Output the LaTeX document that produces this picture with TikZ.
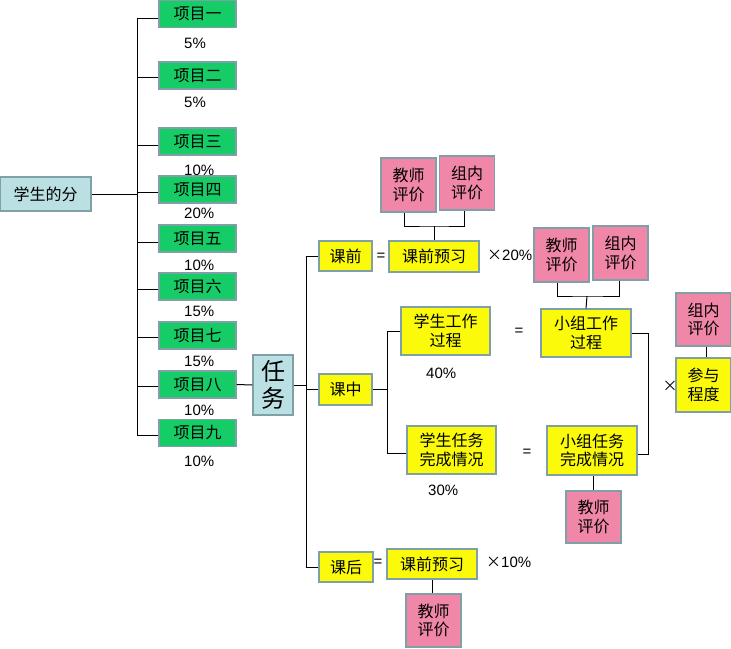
\documentclass[tikz,border=0pt]{standalone}
\usepackage{fontspec}
\setmainfont{Liberation Sans}
\newfontfamily\cjk{Noto Sans CJK SC}
\definecolor{cgreen}{RGB}{22,204,102}
\definecolor{cblue}{RGB}{187,224,227}
\definecolor{cyellow}{RGB}{250,250,10}
\definecolor{cpink}{RGB}{240,134,168}
\definecolor{cborder}{RGB}{128,160,168}
\begin{document}
\begin{tikzpicture}[x=1pt,y=-1pt,
  box/.style={draw=cborder,line width=1.2pt,inner sep=0pt,align=center,
    font=\cjk\fontsize{16}{18.5}\selectfont},
  gbox/.style={box,fill=cgreen,minimum width=77,minimum height=27},
  bbox/.style={box,fill=cblue},
  ybox/.style={box,fill=cyellow},
  pbox/.style={box,fill=cpink,minimum width=55,minimum height=54},
  pct/.style={anchor=west,inner sep=0pt,font=\fontsize{15}{18}\selectfont},
  sym/.style={inner sep=0pt,font=\fontsize{15}{18}\selectfont},
  conn/.style={line width=1pt,black}]
\useasboundingbox (0,0) rectangle (731,648);
\fill[white] (0,0) rectangle (731,648);

% left tree
\node[bbox,minimum width=91,minimum height=34] (root) at (45.5,194) {学生的分};
\node[gbox] (p1) at (197.5,14) {项目一};
\node[gbox] (p2) at (197.5,75.5) {项目二};
\node[gbox] (p3) at (197.5,141.5) {项目三};
\node[gbox] (p4) at (197.5,189.5) {项目四};
\node[gbox] (p5) at (197.5,238.5) {项目五};
\node[gbox] (p6) at (197.5,286.5) {项目六};
\node[gbox] (p7) at (197.5,335.5) {项目七};
\node[gbox] (p8) at (197.5,384.5) {项目八};
\node[gbox] (p9) at (197.5,433) {项目九};

\node[pct] (q1) at (184,43) {5\%};
\node[pct] (q2) at (184,102) {5\%};
\node[pct] (q3) at (184,170) {10\%};
\node[pct] (q4) at (184,213) {20\%};
\node[pct] (q5) at (184,265) {10\%};
\node[pct] (q6) at (184,311) {15\%};
\node[pct] (q7) at (184,361) {15\%};
\node[pct] (q8) at (184,410) {10\%};
\node[pct] (q9) at (184,461) {10\%};

\coordinate (ta) at (137,18);
\coordinate (tb) at (137,435);
\draw[conn] (ta) -- (tb);
\draw[conn] (root.east) -- (root.east -| ta);
\foreach \p/\s in {p1/-4,p2/-2,p3/-4,p4/-3,p5/-4,p6/-3,p7/-2,p8/-2,p9/-2}{
  \draw[conn] ([yshift=\s pt]\p.west) -- ([yshift=\s pt]\p.west -| ta);
}

% task
\node[bbox,minimum width=40,minimum height=60,
  font=\cjk\fontsize{24}{27}\selectfont] (task) at (273,385) {任\\务};
\draw[conn] (p8.east) -- (task.west);

\coordinate (sa) at (306,257);
\coordinate (sb) at (306,568);
\draw[conn] (sa) -- (sb);
\draw[conn] (task.east) -- (task.east -| sa);

\node[ybox,minimum width=53,minimum height=30] (qian) at (345.5,256) {课前};
\node[ybox,minimum width=53,minimum height=31] (zhong) at (345.5,389.5) {课中};
\node[ybox,minimum width=54,minimum height=30] (hou) at (346,567) {课后};
\draw[conn] (qian.west) -- (qian.west -| sa);
\draw[conn] (zhong.west) -- (zhong.west -| sa);
\draw[conn] (hou.west) -- (hou.west -| sa);

% before class
\node[sym] (e1) at (381,257) {=};
\node[ybox,minimum width=90,minimum height=31] (yx1) at (434,256.5) {课前预习};
\node[pct] (m1) at (487,255) {{\cjk ×}20\%};
\node[pbox] (t1) at (408.5,185) {教师\\评价};
\node[pbox] (z1) at (467,183) {组内\\评价};
\coordinate (b1) at (434,226);
\draw[conn] ([xshift=-4pt]t1.south) |- (b1) -| ([xshift=-3pt]z1.south);
\draw[conn] (b1) -- (yx1.north);

% in class
\node[ybox,minimum width=89,minimum height=48] (xsg) at (445.5,331) {学生工作\\过程};
\node[ybox,minimum width=89,minimum height=48] (xsr) at (451.5,450) {学生任务\\完成情况};
\coordinate (ca) at (387,331);
\coordinate (cb) at (387,453);
\draw[conn] (ca) -- (cb);
\draw[conn] (zhong.east) -- (zhong.east -| ca);
\draw[conn] (xsg.west) -- (xsg.west -| ca);
\draw[conn] ([yshift=-3pt]xsr.west) -- ([yshift=-3pt]xsr.west -| ca);
\node[pct] (m40) at (426,373) {40\%};
\node[pct] (m30) at (428,490) {30\%};
\node[sym] (e2) at (519,332) {=};
\node[sym] (e3) at (527,453) {=};

\node[ybox,minimum width=90,minimum height=48] (xzg) at (586,333) {小组工作\\过程};
\node[ybox,minimum width=90,minimum height=49] (xzr) at (592,450.5) {小组任务\\完成情况};
\node[pbox] (t2) at (561.5,255) {教师\\评价};
\node[pbox] (z2) at (620.5,253) {组内\\评价};
\coordinate (b2) at (587,296);
\draw[conn] ([xshift=-4pt]t2.south) |- (b2) -| ([xshift=-1pt]z2.south);
\draw[conn] (b2) -- (xzg.north);
\coordinate (rb) at (648,333);
\draw[conn] (xzg.east) -- (rb) |- ([yshift=-4pt]xzr.east);
\node[pbox,minimum height=52] (t3) at (593.5,517) {教师\\评价};
\draw[conn] (xzr.south -| t3.north) -- (t3.north);

\node[pbox,minimum height=53] (z3) at (703.5,319.5) {组内\\评价};
\node[ybox,minimum width=55,minimum height=54] (cy) at (703.5,385) {参与\\程度};
\draw[conn] ([xshift=3pt]z3.south) -- ([xshift=3pt]cy.north);
\node[sym,font=\cjk\fontsize{15}{18}\selectfont] (x1) at (670,386) {×};

% after class
\node[sym] (e4) at (378,563) {=};
\node[ybox,minimum width=90,minimum height=30] (yx2) at (432,564) {课前预习};
\node[pct] (m2) at (486,562) {{\cjk ×}10\%};
\node[pbox,minimum height=53] (t4) at (433.5,620.5) {教师\\评价};
\draw[conn] (yx2.south) -- (yx2.south |- t4.north);
\end{tikzpicture}
\end{document}
